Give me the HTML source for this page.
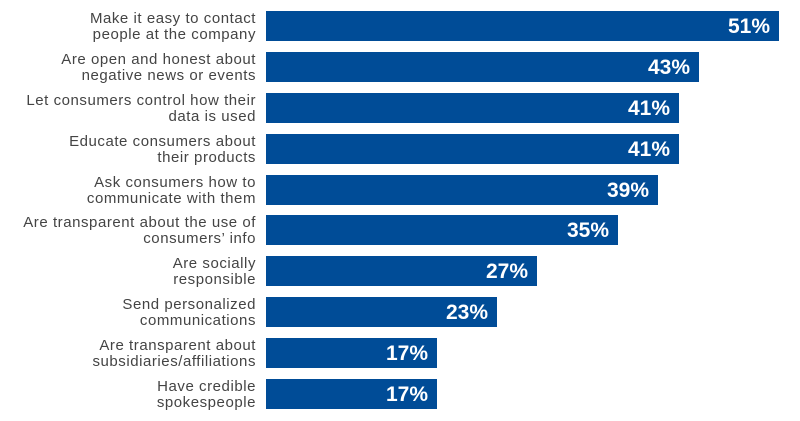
<!DOCTYPE html>
<html><head><style>
body{margin:0;width:800px;height:421px;background:#fff;position:relative;overflow:hidden;font-family:"Liberation Sans",sans-serif}
.l{position:absolute;right:544px;width:300px;text-align:right;color:#444;font-size:15px;letter-spacing:0.55px;line-height:16px}
.b{position:absolute;left:266px;height:30px;background:#004c97;color:#fff;font-weight:bold;font-size:21px;line-height:31px;text-align:right;box-sizing:border-box;padding-right:9px}
</style></head><body>
<div class="l" style="top:11px">Make it easy to contact<br>people at the company</div><div class="b" style="top:11px;width:513px">51%</div>
<div class="l" style="top:52px">Are open and honest about<br>negative news or events</div><div class="b" style="top:52px;width:433px">43%</div>
<div class="l" style="top:93px">Let consumers control how their<br>data is used</div><div class="b" style="top:93px;width:413px">41%</div>
<div class="l" style="top:134px">Educate consumers about<br>their products</div><div class="b" style="top:134px;width:413px">41%</div>
<div class="l" style="top:175px">Ask consumers how to<br>communicate with them</div><div class="b" style="top:175px;width:392px">39%</div>
<div class="l" style="top:215px">Are transparent about the use of<br>consumers’ info</div><div class="b" style="top:215px;width:352px">35%</div>
<div class="l" style="top:256px">Are socially<br>responsible</div><div class="b" style="top:256px;width:271px">27%</div>
<div class="l" style="top:297px">Send personalized<br>communications</div><div class="b" style="top:297px;width:231px">23%</div>
<div class="l" style="top:338px">Are transparent about<br>subsidiaries/affiliations</div><div class="b" style="top:338px;width:171px">17%</div>
<div class="l" style="top:379px">Have credible<br>spokespeople</div><div class="b" style="top:379px;width:171px">17%</div>
</body></html>
